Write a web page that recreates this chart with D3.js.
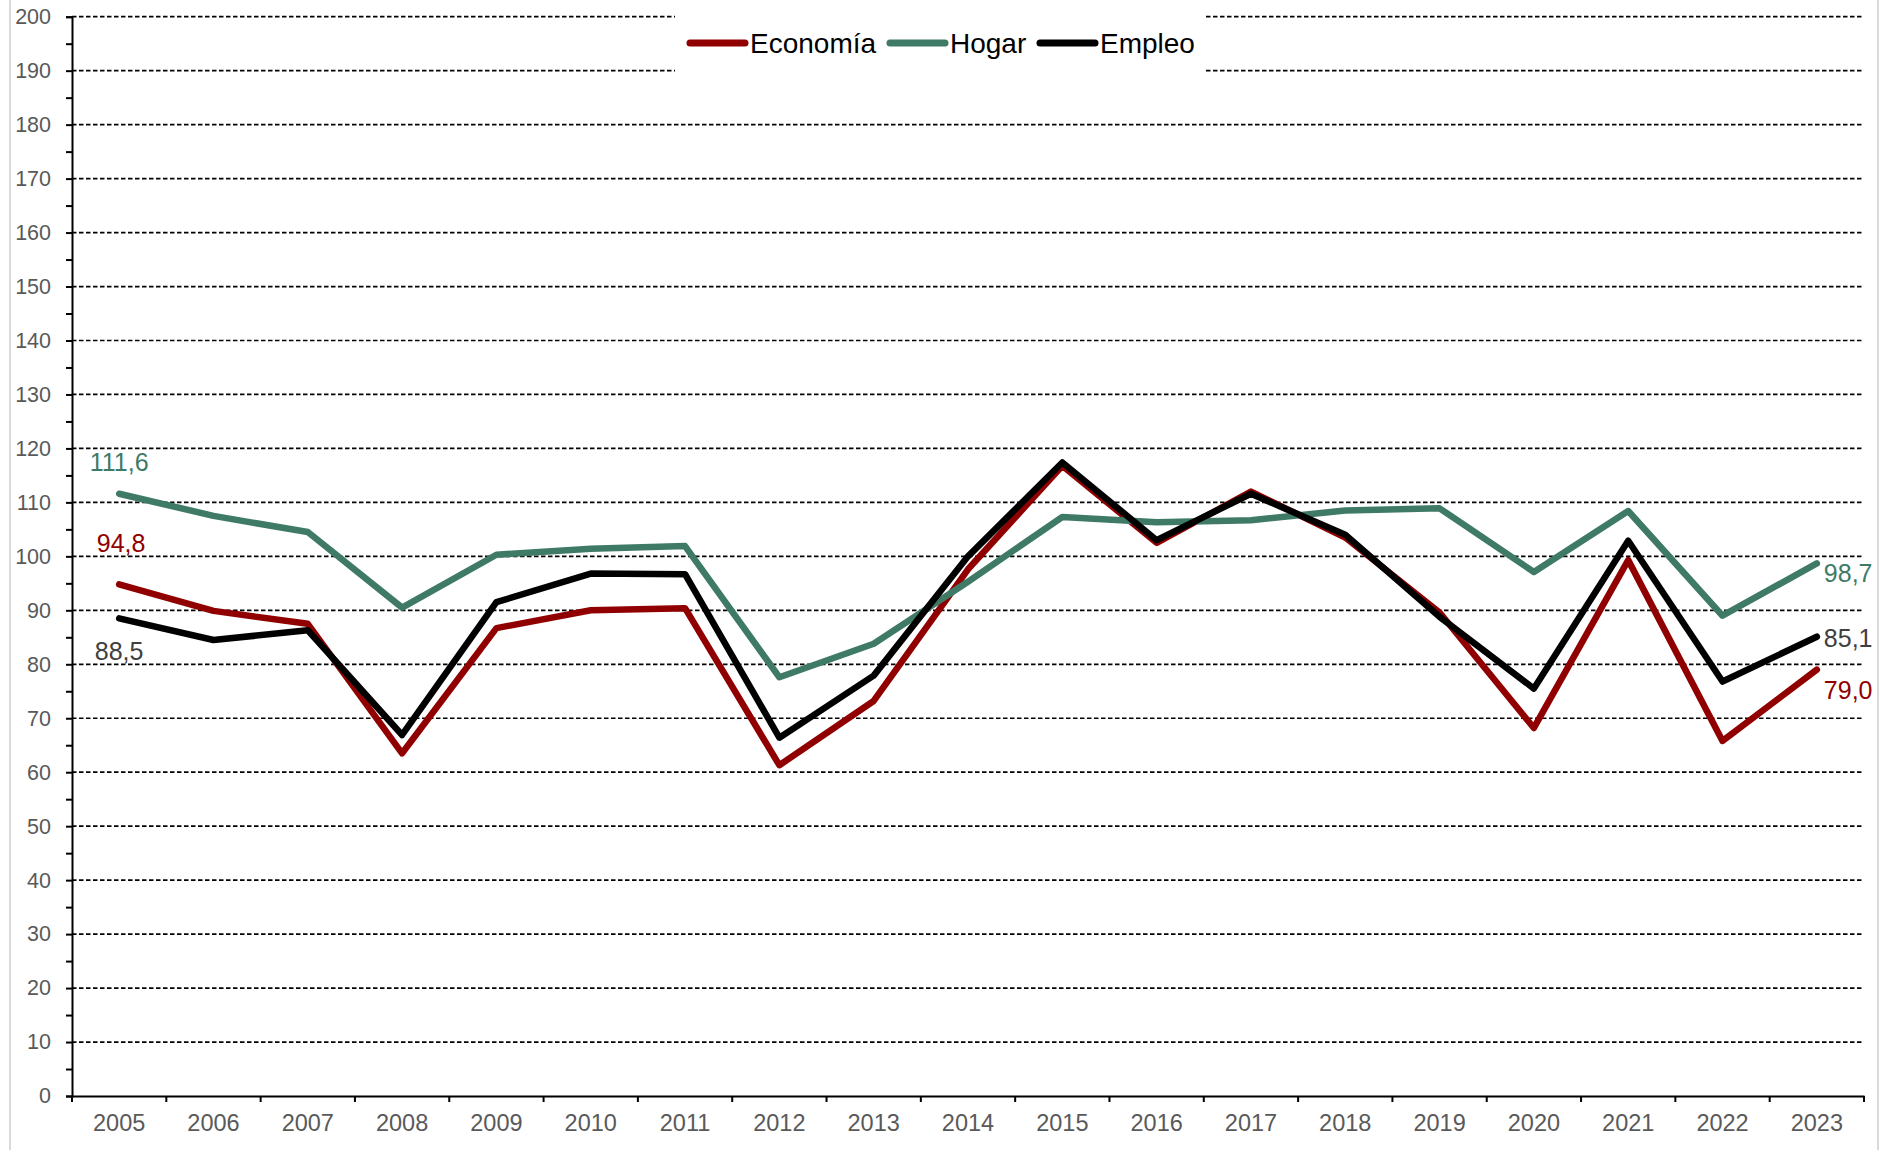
<!DOCTYPE html>
<html>
<head>
<meta charset="utf-8">
<script src="https://cdn.jsdelivr.net/npm/d3@7"></script>
<style>
  body { margin: 0; background: #fff; }
  svg { display: block; font-family: "Liberation Sans", Arial, sans-serif; }
</style>
</head>
<body>
<div id="chart"></div>
<script>
const width = 1887;
const height = 1150;

// data
const years = ['2005', '2006', '2007', '2008', '2009', '2010', '2011', '2012', '2013', '2014',
  '2015', '2016', '2017', '2018', '2019', '2020', '2021', '2022', '2023'];
const economia = [94.8, 89.9, 87.5, 63.5, 86.7, 90.0, 90.4, 61.3, 73.2, 97.6,
  116.8, 102.5, 112.0, 103.5, 89.6, 68.2, 99.3, 65.8, 79.0];
const hogar = [111.6, 107.5, 104.5, 90.5, 100.3, 101.4, 101.9, 77.6, 83.8, 95.3,
  107.3, 106.3, 106.7, 108.5, 108.9, 97.1, 108.4, 89.0, 98.7];
const empleo = [88.5, 84.5, 86.3, 66.9, 91.5, 96.8, 96.7, 66.4, 77.9, 100.0,
  117.4, 103.0, 111.6, 104.0, 88.8, 75.5, 102.9, 76.8, 85.1];
const seriesNames = ['Economía', 'Hogar', 'Empleo'];
const yTicks = d3.range(0, 201, 5);

const series = [
  { name: seriesNames[0], values: economia, color: '#900000' },
  { name: seriesNames[1], values: hogar, color: '#3f7a66' },
  { name: seriesNames[2], values: empleo, color: '#000000' }
];

const svg = d3.select('#chart')
  .append('svg')
  .attr('width', width)
  .attr('height', height);

// light chart-area border
svg.append('line').attr('x1', 10).attr('x2', 10).attr('y1', 0).attr('y2', height)
  .attr('stroke', '#d9d9d9').attr('stroke-width', 2);
svg.append('line').attr('x1', 1878).attr('x2', 1878).attr('y1', 0).attr('y2', height)
  .attr('stroke', '#d9d9d9').attr('stroke-width', 2);

const x = d3.scaleBand().domain(years).range([72, 1864]).padding(0);
const y = d3.scaleLinear().domain([0, 200]).range([1096, 16.7]);
const cx = d => x(d) + x.bandwidth() / 2;

// dashed gridlines
svg.append('g')
  .selectAll('line')
  .data(yTicks.filter(d => d % 10 === 0 && d > 0))
  .enter()
  .append('line')
  .attr('x1', 72)
  .attr('x2', 1864)
  .attr('y1', d => y(d))
  .attr('y2', d => y(d))
  .attr('stroke', '#000')
  .attr('stroke-width', 1.7)
  .attr('stroke-dasharray', '4.5,2.5');

// y axis
const yAxis = svg.append('g')
  .attr('transform', 'translate(72,0)')
  .call(d3.axisLeft(y).tickValues(yTicks).tickSize(6).tickPadding(15)
    .tickFormat(d => (d % 10 === 0 ? d : '')));
yAxis.select('.domain').attr('stroke', '#000').attr('stroke-width', 2);
yAxis.selectAll('.tick line').attr('stroke', '#000').attr('stroke-width', 2);
yAxis.selectAll('.tick text')
  .attr('fill', '#595959')
  .style('font-size', '21.5px');

// x axis
const xAxis = svg.append('g')
  .attr('transform', 'translate(0,1096)')
  .call(d3.axisBottom(x).tickSize(0).tickPadding(18).tickSizeOuter(0));
xAxis.select('.domain').attr('stroke', '#000').attr('stroke-width', 2);
xAxis.selectAll('.tick text')
  .attr('fill', '#595959')
  .style('font-size', '23.5px');

// boundary ticks between categories
xAxis.append('g')
  .selectAll('line')
  .data(d3.range(years.length + 1))
  .enter()
  .append('line')
  .attr('x1', i => 72 + i * x.step())
  .attr('x2', i => 72 + i * x.step())
  .attr('y1', 0)
  .attr('y2', 6)
  .attr('stroke', '#000')
  .attr('stroke-width', 2);

// lines
const line = d3.line()
  .x((d, i) => cx(years[i]))
  .y(d => y(d));

svg.append('g')
  .selectAll('path')
  .data(series)
  .enter()
  .append('path')
  .attr('d', d => line(d.values))
  .attr('fill', 'none')
  .attr('stroke', d => d.color)
  .attr('stroke-width', 6.5)
  .attr('stroke-linejoin', 'round')
  .attr('stroke-linecap', 'round');

// value labels at first and last point
const firstOffsets = [-41, -32, 33];
const lastOffsets = [20, 10, 1];
const fmt = v => v.toFixed(1).replace('.', ',');

series.forEach((s, k) => {
  const first = s.values[0];
  const last = s.values[s.values.length - 1];
  svg.append('text')
    .attr('x', cx(years[0]) + (k === 0 ? 2 : 0))
    .attr('y', y(first) + firstOffsets[k])
    .attr('text-anchor', 'middle')
    .attr('dominant-baseline', 'central')
    .attr('fill', k === 2 ? '#404040' : s.color)
    .style('font-size', '25px')
    .text(fmt(first));
  svg.append('text')
    .attr('x', cx(years[years.length - 1]) + 7)
    .attr('y', y(last) + lastOffsets[k])
    .attr('text-anchor', 'start')
    .attr('dominant-baseline', 'central')
    .attr('fill', k === 2 ? '#404040' : s.color)
    .style('font-size', '25px')
    .text(fmt(last));
});

// legend
const legend = svg.append('g');
legend.append('rect')
  .attr('x', 675)
  .attr('y', 0)
  .attr('width', 529)
  .attr('height', 82)
  .attr('fill', '#fff');

const legendX = [690, 890, 1040];
series.forEach((s, k) => {
  legend.append('line')
    .attr('x1', legendX[k])
    .attr('x2', legendX[k] + 55)
    .attr('y1', 43)
    .attr('y2', 43)
    .attr('stroke', s.color)
    .attr('stroke-width', 7)
    .attr('stroke-linecap', 'round');
  legend.append('text')
    .attr('x', legendX[k] + 60)
    .attr('y', 43)
    .attr('dominant-baseline', 'central')
    .attr('fill', '#000')
    .style('font-size', '28px')
    .text(s.name);
});
</script>
</body>
</html>
